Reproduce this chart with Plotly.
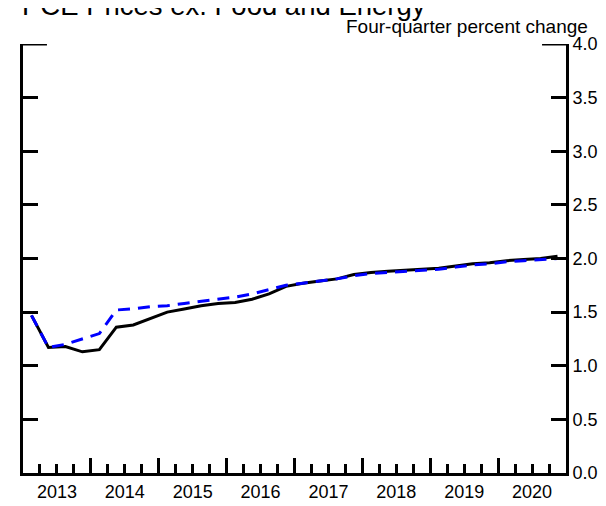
import plotly.graph_objects as go

quarters = [f"{y}Q{q}" for y in range(2013, 2021) for q in range(1, 5)]
actual = [1.47, 1.17, 1.18, 1.13,
          1.15, 1.36, 1.38, 1.44,
          1.50, 1.53, 1.56, 1.58,
          1.59, 1.62, 1.67, 1.74,
          1.77, 1.79, 1.81, 1.85,
          1.87, 1.88, 1.89, 1.90,
          1.91, 1.93, 1.95, 1.96,
          1.98, 1.99, 2.00, 2.02]
projection = [1.47, 1.17, 1.20, 1.25,
              1.30, 1.52, 1.53, 1.55,
              1.56, 1.58, 1.60, 1.62,
              1.64, 1.67, 1.71, 1.75,
              1.77, 1.79, 1.81, 1.84,
              1.86, 1.87, 1.88, 1.89,
              1.90, 1.92, 1.94, 1.95,
              1.97, 1.98, 1.99, 2.00]
years = list(range(2013, 2021))
y_ticks = [0.0, 0.5, 1.0, 1.5, 2.0, 2.5, 3.0, 3.5, 4.0]


def qpos(label):
    y, q = label.split("Q")
    return int(y) + (int(q) - 0.5) / 4.0


xs = [qpos(q) for q in quarters]
FONT = "Liberation Sans, Arial, sans-serif"

fig = go.Figure()
fig.add_trace(go.Scatter(x=xs, y=actual, mode="lines",
                         line=dict(color="black", width=3), showlegend=False))
fig.add_trace(go.Scatter(x=xs, y=projection, mode="lines",
                         line=dict(color="#0000ff", width=3, dash="12px,8px"),
                         showlegend=False))
fig.add_trace(go.Scatter(x=[], y=[], xaxis="x2", showlegend=False))

fig.update_layout(
    width=606, height=506,
    margin=dict(l=14, r=48, t=36, b=23),
    paper_bgcolor="white", plot_bgcolor="white",
    font=dict(family=FONT, size=18, color="black"),
    xaxis=dict(range=[2013, 2021], showgrid=False, zeroline=False,
               showline=True, linecolor="black", linewidth=3,
               tickmode="array", tickvals=[y + 0.5 for y in years],
               ticktext=[str(y) for y in years],
               ticks="inside", ticklen=9, tickwidth=2.5, tickcolor="black",
               minor=dict(dtick=0.25, tick0=2013, ticks="inside", ticklen=9,
                          tickwidth=2.5, tickcolor="black"),
               tickfont=dict(size=18)),
    xaxis2=dict(range=[2013, 2021], overlaying="x", anchor="y", side="bottom",
                showgrid=False, zeroline=False, showline=False,
                tickmode="array", tickvals=years[1:],
                ticks="inside", ticklen=15, tickwidth=2.5, tickcolor="black",
                showticklabels=False),
    yaxis=dict(range=[0, 4], side="right", showgrid=False, zeroline=False,
               showline=True, mirror="ticks", linecolor="black", linewidth=3,
               tickmode="array", tickvals=y_ticks,
               ticktext=[f"{v:.1f}" for v in y_ticks],
               ticks="inside", ticklen=15, tickwidth=2.5, tickcolor="black",
               tickfont=dict(size=18)),
    shapes=[
        dict(type="line", xref="paper", yref="y", x0=0, x1=24 / 544, y0=4, y1=4,
             line=dict(color="black", width=3)),
        dict(type="line", xref="paper", yref="y", x0=1 - 24 / 544, x1=1, y0=4, y1=4,
             line=dict(color="black", width=3)),
    ],
    annotations=[
        dict(text="PCE Prices ex. Food and Energy", xref="paper", yref="paper",
             x=-0.006, y=1.090, xanchor="left", yanchor="middle", showarrow=False,
             font=dict(size=27.5, family=FONT)),
        dict(text="Four-quarter percent change", xref="paper", yref="paper",
             x=1.0441, y=1.041, xanchor="right", yanchor="middle", showarrow=False,
             font=dict(size=19, family=FONT)),
    ],
)

fig.write_html("out.html")
